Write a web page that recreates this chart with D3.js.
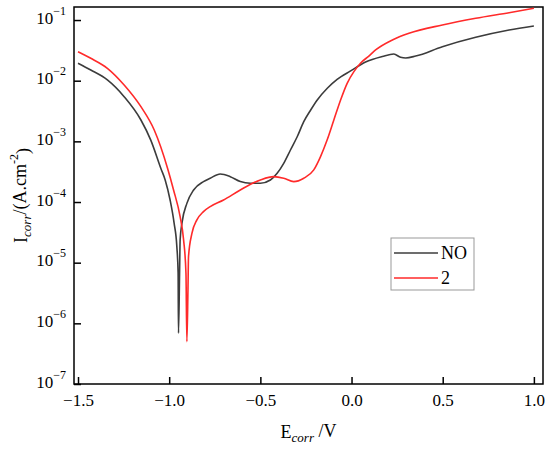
<!DOCTYPE html>
<html>
<head>
<meta charset="utf-8">
<script src="https://cdn.jsdelivr.net/npm/d3@7"></script>
<style>
  body { margin: 0; background: #fff; }
  svg, svg text { font-family: "Liberation Serif", "Times New Roman", serif; }
</style>
</head>
<body>
<svg id="chart" width="550" height="449"></svg>
<script>
// potential (V) and current density (A/cm2)
var noE = [-1.5, -1.430, -1.339, -1.247, -1.155, -1.101, -1.046, -1.022, -0.995, -0.973, -0.958, -0.951, -0.949,
           -0.943, -0.940, -0.930, -0.903, -0.866, -0.812, -0.775, -0.720, -0.665, -0.610, -0.555, -0.500,
           -0.445, -0.408, -0.372, -0.335, -0.298, -0.262, -0.224, -0.188, -0.133, -0.079, -0.005, 0.077, 0.169,
           0.232, 0.269, 0.297, 0.352, 0.498, 0.681, 0.864, 1.0];
var noI = [1.94e-2, 1.50e-2, 1.03e-2, 5.45e-3, 2.25e-3, 1.05e-3, 3.61e-4, 2.31e-4, 1.08e-4, 4.48e-5, 1.84e-5, 6.7e-6, 6.9e-7,
           6.8e-6, 2.38e-5, 4.48e-5, 9.5e-5, 1.58e-4, 2.17e-4, 2.47e-4, 2.90e-4, 2.62e-4, 2.17e-4, 2.04e-4, 2.04e-4,
           2.31e-4, 2.98e-4, 4.35e-4, 7.2e-4, 1.19e-3, 2.11e-3, 3.29e-3, 4.81e-3, 7.5e-3, 1.05e-2, 1.45e-2, 2.03e-2, 2.50e-2,
           2.75e-2, 2.43e-2, 2.37e-2, 2.55e-2, 3.63e-2, 5.19e-2, 6.84e-2, 7.96e-2];

var twoE = [-1.5, -1.430, -1.339, -1.247, -1.155, -1.082, -1.009, -0.976, -0.940, -0.921, -0.908, -0.903,
            -0.897, -0.894, -0.875, -0.848, -0.812, -0.775, -0.702, -0.610, -0.500, -0.427, -0.372, -0.317,
            -0.262, -0.207, -0.170, -0.134, -0.097, -0.060, -0.024, 0.013, 0.049, 0.095, 0.132, 0.224, 0.315,
            0.498, 0.681, 0.864, 1.0];
var twoI = [3.0e-2, 2.34e-2, 1.60e-2, 8.5e-3, 3.73e-3, 1.54e-3, 3.61e-4, 1.58e-4, 5.74e-5, 2.38e-5, 6.7e-6, 5.0e-7,
            3.56e-6, 1.26e-5, 3.06e-5, 5.07e-5, 6.95e-5, 8.4e-5, 1.08e-4, 1.58e-4, 2.31e-4, 2.62e-4, 2.47e-4, 2.17e-4,
            2.47e-4, 3.38e-4, 5.6e-4, 1.05e-3, 2.25e-3, 4.81e-3, 9.06e-3, 1.41e-2, 1.94e-2, 2.55e-2, 3.21e-2, 4.69e-2, 6.04e-2,
            8.28e-2, 0.1067, 0.132, 0.156];

var seriesNames = ["NO", "2"];
var seriesColors = ["#3c3c3c", "#ff2a2a"];
var xTicks = [-1.5, -1.0, -0.5, 0.0, 0.5, 1.0];
var yTicks = [1e-7, 1e-6, 1e-5, 1e-4, 1e-3, 1e-2, 1e-1];

var margin = {top: 7, right: 7, bottom: 65, left: 74};
var width = 550 - margin.left - margin.right;
var height = 449 - margin.top - margin.bottom;

var svg = d3.select("#chart");
var g = svg.append("g")
    .attr("transform", "translate(" + margin.left + "," + margin.top + ")");

var x = d3.scaleLinear().domain([-1.522, 1.05]).range([0, width]);
var y = d3.scaleLog().domain([1e-7, 0.164]).range([height, 0]);

// x axis, ticks pointing inward
var xAxis = g.append("g")
    .attr("transform", "translate(0," + height + ")")
    .call(d3.axisBottom(x).tickValues(xTicks).tickFormat(d3.format(".1f"))
      .tickSizeInner(-7).tickSizeOuter(0).tickPadding(10));
xAxis.attr("font-family", null);
xAxis.select(".domain").remove();
xAxis.selectAll("line").attr("stroke", "#000").attr("stroke-width", 1.5);
xAxis.selectAll("text").attr("font-size", 17).attr("fill", "#000");

// y axis with 10^n labels
var yAxis = g.append("g")
    .call(d3.axisLeft(y).tickValues(yTicks).tickFormat("")
      .tickSizeInner(-7).tickSizeOuter(0).tickPadding(8));
yAxis.attr("font-family", null);
yAxis.select(".domain").remove();
yAxis.selectAll("line").attr("stroke", "#000").attr("stroke-width", 1.5);
yAxis.selectAll(".tick text")
    .attr("fill", "#000")
    .each(function(d) {
      var t = d3.select(this);
      t.text(null);
      t.append("tspan").attr("font-size", 17).text("10");
      t.append("tspan").attr("font-size", 12).attr("dy", "-0.75em")
        .text("\u2212" + Math.round(-Math.log10(d)));
    });

// frame
g.append("rect")
    .attr("width", width).attr("height", height)
    .attr("fill", "none").attr("stroke", "#000").attr("stroke-width", 1.5);

var line = d3.line()
    .x(function(d) { return x(d[0]); })
    .y(function(d) { return y(d[1]); })
    .curve(d3.curveMonotoneX);

var series = [d3.zip(noE, noI), d3.zip(twoE, twoI)];
g.selectAll(".curve")
  .data(series)
  .enter()
  .append("path")
    .attr("class", "curve")
    .attr("fill", "none")
    .attr("stroke", function(d, i) { return seriesColors[i]; })
    .attr("stroke-width", 1.6)
    .attr("d", line);

// legend
var legend = svg.append("g").attr("transform", "translate(391,238)");
legend.append("rect")
    .attr("width", 83).attr("height", 52)
    .attr("fill", "#fff").attr("stroke", "#999").attr("stroke-width", 1);
seriesNames.forEach(function(name, i) {
  var yy = 15 + i * 25;
  legend.append("line")
      .attr("x1", 3).attr("x2", 47).attr("y1", yy).attr("y2", yy)
      .attr("stroke", seriesColors[i]).attr("stroke-width", 1.6);
  legend.append("text")
      .attr("x", 50).attr("y", yy).attr("dy", "0.35em")
      .attr("font-size", 18).text(name);
});

// axis titles
var xTitle = svg.append("text")
    .attr("x", margin.left + width / 2).attr("y", 438)
    .attr("text-anchor", "middle").attr("font-size", 18);
xTitle.append("tspan").text("E");
xTitle.append("tspan").attr("font-size", 13).attr("font-style", "italic").attr("dy", "0.3em").text("corr");
xTitle.append("tspan").attr("dy", "-0.3em").text(" /V");

var yTitle = svg.append("text")
    .attr("transform", "translate(27," + (margin.top + height / 2) + ") rotate(-90)")
    .attr("text-anchor", "middle").attr("font-size", 18);
yTitle.append("tspan").text("I");
yTitle.append("tspan").attr("font-size", 13).attr("font-style", "italic").attr("dy", "0.3em").text("corr");
yTitle.append("tspan").attr("dy", "-0.3em").text("/(A.cm");
yTitle.append("tspan").attr("font-size", 12).attr("dy", "-0.6em").text("-2");
yTitle.append("tspan").attr("dy", "0.6em").text(")");
</script>
</body>
</html>
